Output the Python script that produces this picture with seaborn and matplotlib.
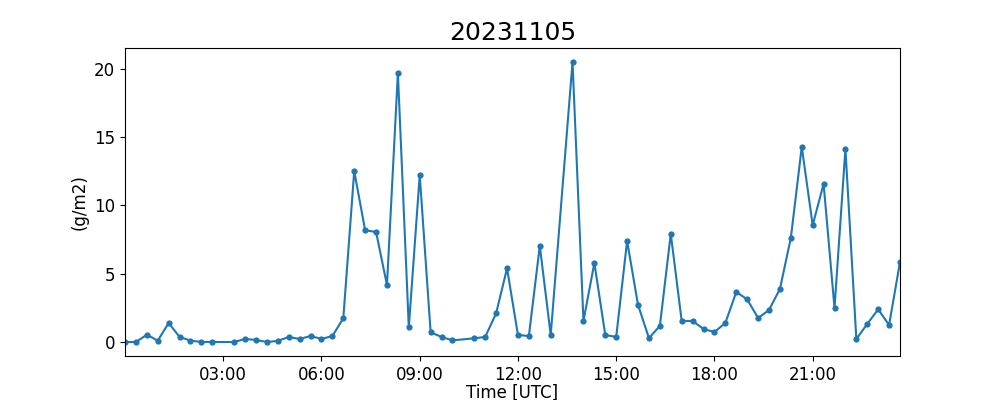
import pandas as pd
import matplotlib
matplotlib.use('Agg')
import matplotlib.pyplot as plt
import matplotlib.dates as mdates
import seaborn as sns

# observation times (UTC), 20-min steps, some missing
times = ['00:00', '00:20', '00:40', '01:00', '01:20', '01:40', '02:00', '02:20', '02:40',
         '03:20', '03:40', '04:00', '04:20', '04:40', '05:00', '05:20', '05:40',
         '06:00', '06:20', '06:40', '07:00', '07:20', '07:40', '08:00', '08:20', '08:40',
         '09:00', '09:20', '09:40', '10:00', '10:40', '11:00', '11:20', '11:40',
         '12:00', '12:20', '12:40', '13:00', '13:40', '14:00', '14:20', '14:40',
         '15:00', '15:20', '15:40', '16:00', '16:20', '16:40', '17:00', '17:20', '17:40',
         '18:00', '18:20', '18:40', '19:00', '19:20', '19:40', '20:00', '20:20', '20:40',
         '21:00', '21:20', '21:40', '22:00', '22:20', '22:40', '23:00', '23:20', '23:40']

values = [0.0, 0.0, 0.53, 0.1, 1.39, 0.37, 0.1, 0.0, 0.0,
          0.0, 0.22, 0.15, 0.0, 0.08, 0.37, 0.22, 0.44,
          0.22, 0.44, 1.74, 12.5, 8.17, 8.05, 4.17, 19.67, 1.07,
          12.2, 0.71, 0.37, 0.12, 0.27, 0.37, 2.1, 5.39,
          0.51, 0.44, 7.03, 0.51, 20.48, 1.54, 5.78, 0.51,
          0.37, 7.39, 2.71, 0.29, 1.17, 7.91, 1.54, 1.54, 0.95,
          0.73, 1.39, 3.66, 3.12, 1.75, 2.34, 3.88, 7.61, 14.28,
          8.54, 11.57, 2.49, 14.13, 0.22, 1.32, 2.39, 1.24, 5.85]

df = pd.DataFrame({'time': pd.to_datetime(['2023-11-05 ' + t for t in times]),
                   'val': values})

fig, ax = plt.subplots(figsize=(10, 4), dpi=100)
sns.lineplot(data=df, x='time', y='val', ax=ax, color='#1f77b4', marker='o',
             markersize=4.5, markeredgecolor='#1f77b4', markeredgewidth=0, linewidth=1.5)

ax.set_xlim(df['time'].min(), df['time'].max())
ax.xaxis.set_major_locator(mdates.HourLocator(byhour=range(3, 24, 3)))
ax.xaxis.set_major_formatter(mdates.DateFormatter('%H:%M'))
ax.tick_params(labelsize=12)
ax.set_xlabel('Time [UTC]', fontsize=12, labelpad=0)
ax.set_ylabel('(g/m2)', fontsize=12)
ax.set_title('20231105', fontsize=18)

plt.savefig('out.png')
